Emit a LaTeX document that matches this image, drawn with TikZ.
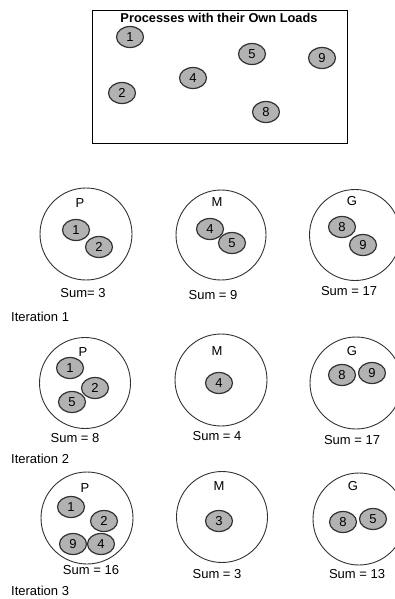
\documentclass[tikz,border=0pt]{standalone}
\usepackage{fontspec}
\setmainfont{Liberation Sans}
\usetikzlibrary{shapes.geometric}
\definecolor{procfill}{RGB}{178,178,178}
\definecolor{procline}{RGB}{50,50,50}
\definecolor{grpline}{RGB}{50,50,50}
\tikzset{
  proc/.style={ellipse, draw=procline, line width=1.2pt, fill=procfill, minimum width=27pt, minimum height=21pt, inner sep=0pt, font=\fontsize{13}{15}\selectfont},
  grp/.style={circle, draw=grpline, line width=0.9pt, inner sep=0pt},
  lbl/.style={inner sep=0pt, font=\fontsize{13}{15}\selectfont},
}
\begin{document}
\begin{tikzpicture}[x=1pt,y=-1pt]
\useasboundingbox (0,0) rectangle (395,599);
% top box
\node[draw=black, line width=0.9pt, minimum width=255pt, minimum height=133pt, inner sep=0pt] (box) at (219.5,76.5) {};
\node[lbl, font=\fontsize{12.8}{15}\bfseries] (title) at (219,18) {Processes with their Own Loads};
\node[proc] (t1) at (130,37) {1};
\node[proc] (t2) at (122,93) {2};
\node[proc] (t4) at (193,78) {4};
\node[proc] (t5) at (252,54) {5};
\node[proc] (t9) at (322,58) {9};
\node[proc] (t8) at (266,112) {8};
% row 1
\node[grp, minimum size=92pt] (P1) at (86,234) {};
\node[grp, minimum size=90pt] (M1) at (221,235) {};
\node[grp, minimum size=91pt] (G1) at (355,235) {};
\node[lbl] (P1l) at (80,203) {P};
\node[lbl] (M1l) at (217,202) {M};
\node[lbl] (G1l) at (352,201) {G};
\node[proc] (r1a) at (76,230) {1};
\node[proc] (r1b) at (99,247) {2};
\node[proc] (r1c) at (210,229) {4};
\node[proc] (r1d) at (232,243) {5};
\node[proc] (r1e) at (342,227) {8};
\node[proc] (r1f) at (363,245) {9};
\node[lbl] (s1a) at (83,293) {Sum= 3};
\node[lbl] (s1b) at (213,295) {Sum = 9};
\node[lbl] (s1c) at (349,291) {Sum = 17};
\node[lbl, anchor=west] (it1) at (11,317) {Iteration 1};
% row 2
\node[grp, minimum size=91pt] (P2) at (85,383) {};
\node[grp, minimum size=92pt] (M2) at (221,380) {};
\node[grp, minimum size=92pt] (G2) at (356,383) {};
\node[lbl] (P2l) at (83,352) {P};
\node[lbl] (M2l) at (217,351) {M};
\node[lbl] (G2l) at (352,351) {G};
\node[proc] (r2a) at (70,368) {1};
\node[proc] (r2b) at (95,388) {2};
\node[proc] (r2c) at (72,402) {5};
\node[proc] (r2d) at (219,383) {4};
\node[proc] (r2e) at (342,375) {8};
\node[proc] (r2f) at (372,373) {9};
\node[lbl] (s2a) at (75,438) {Sum = 8};
\node[lbl] (s2b) at (217,436) {Sum = 4};
\node[lbl] (s2c) at (352,440) {Sum = 17};
\node[lbl, anchor=west] (it2) at (11,459) {Iteration 2};
% row 3
\node[grp, minimum size=92pt] (P3) at (87,518) {};
\node[grp, minimum size=91pt] (M3) at (222,517) {};
\node[grp, minimum size=92pt] (G3) at (359,519) {};
\node[lbl] (P3l) at (85,488) {P};
\node[lbl] (M3l) at (219,486) {M};
\node[lbl] (G3l) at (353,486) {G};
\node[proc] (r3a) at (71,507) {1};
\node[proc] (r3b) at (104,521) {2};
\node[proc] (r3c) at (73,544) {9};
\node[proc] (r3d) at (101,544) {4};
\node[proc] (r3e) at (219,521) {3};
\node[proc] (r3f) at (343,522) {8};
\node[proc] (r3g) at (373,519) {5};
\node[lbl] (s3a) at (91,570) {Sum = 16};
\node[lbl] (s3b) at (217,574) {Sum = 3};
\node[lbl] (s3c) at (357,574) {Sum = 13};
\node[lbl, anchor=west] (it3) at (11,591) {Iteration 3};
\end{tikzpicture}
\end{document}
